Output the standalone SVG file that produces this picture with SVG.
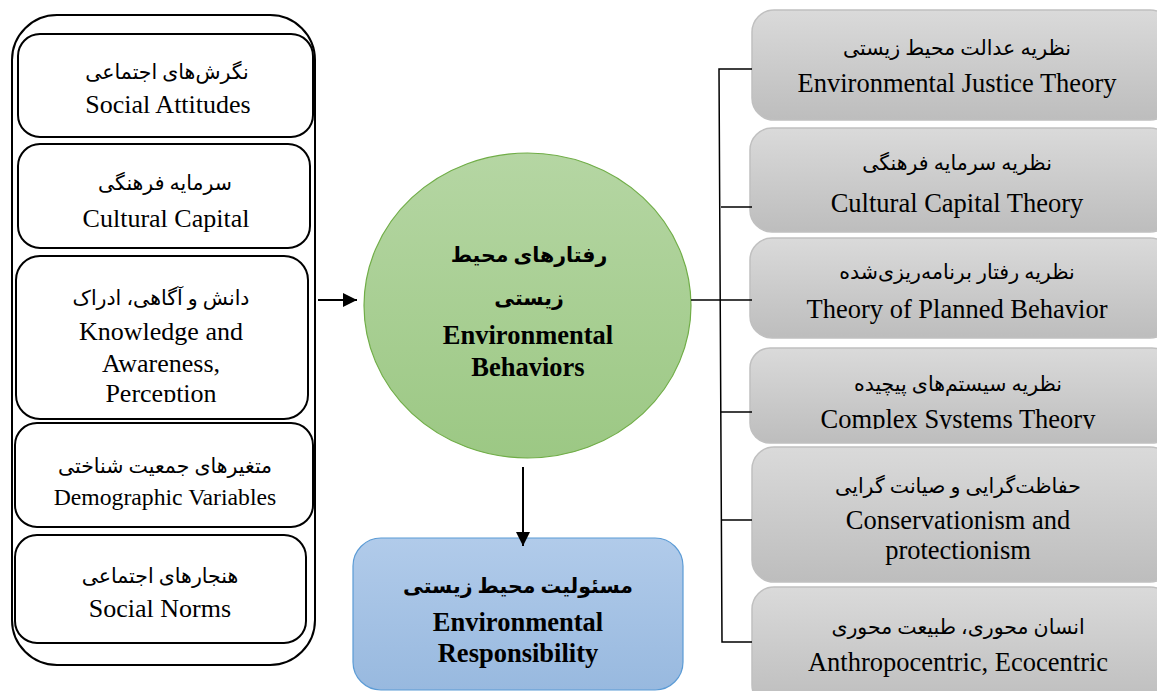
<svg xmlns="http://www.w3.org/2000/svg" width="1157" height="691" viewBox="0 0 1157 691">
<defs>
<linearGradient id="gGreen" x1="0" y1="0" x2="0" y2="1"><stop offset="0" stop-color="#b5d6a3"/><stop offset="1" stop-color="#9cc884"/></linearGradient>
<linearGradient id="gBlue" x1="0" y1="0" x2="0" y2="1"><stop offset="0" stop-color="#b1cbea"/><stop offset="1" stop-color="#98b9df"/></linearGradient>
<linearGradient id="gGray" x1="0" y1="0" x2="0" y2="1"><stop offset="0" stop-color="#dadada"/><stop offset="1" stop-color="#bdbdbd"/></linearGradient>
<marker id="arr" viewBox="0 0 10 10" refX="10" refY="5" markerWidth="14" markerHeight="15" markerUnits="userSpaceOnUse" orient="auto"><path d="M0,0 L10,5 L0,10 z" fill="#000"/></marker>
<clipPath id="clipK"><rect x="0" y="250" width="330" height="152"/></clipPath>
<clipPath id="clipC"><rect x="740" y="340" width="417" height="89"/></clipPath>
</defs>
<style>
.en{font-family:"Liberation Serif","Times New Roman",serif;font-size:26px;fill:#000;text-anchor:middle}
.r{font-size:26.5px}
.fa{font-family:"Liberation Serif","DejaVu Sans",serif;font-size:20.5px;fill:#000;text-anchor:middle;direction:rtl}
.b{font-weight:bold}
.eb{font-size:26.5px;font-weight:bold}
.inner{fill:#fff;stroke:#000;stroke-width:2}
.gray{fill:url(#gGray);stroke:#c0c0c0;stroke-width:1.5}
.ln{stroke:#000;stroke-width:1.5;fill:none}
.ar{stroke:#000;stroke-width:2;fill:none}
</style>
<g id="container">
<rect x="12" y="15" width="303" height="650" rx="45" ry="45" fill="#fff" stroke="#000" stroke-width="2"/>
</g>
<g id="social-attitudes">
<rect class="inner" x="18" y="34" width="295" height="103" rx="22"/>
<text class="fa" x="167" y="79">نگرش‌های اجتماعی</text>
<text class="en" x="168" y="113">Social Attitudes</text>
</g>
<g id="cultural-capital">
<rect class="inner" x="18" y="144" width="292" height="104" rx="22"/>
<text class="fa" x="165" y="190">سرمایه فرهنگی</text>
<text class="en" x="166" y="227">Cultural Capital</text>
</g>
<g id="knowledge">
<rect class="inner" x="16" y="256" width="292" height="163" rx="24"/>
<text class="fa" x="161" y="305">دانش و آگاهی، ادراک</text>
<g clip-path="url(#clipK)">
<text class="en" x="161" y="340">Knowledge and</text>
<text class="en" x="161" y="372">Awareness,</text>
<text class="en" x="161" y="402">Perception</text>
</g>
</g>
<g id="demographic">
<rect class="inner" x="15" y="423" width="298" height="104" rx="22"/>
<text class="fa" x="165" y="473">متغیرهای جمعیت شناختی</text>
<text class="en" x="165" y="505" style="font-size:23.7px">Demographic Variables</text>
</g>
<g id="social-norms">
<rect class="inner" x="15" y="535" width="291" height="108" rx="22"/>
<text class="fa" x="160" y="583">هنجارهای اجتماعی</text>
<text class="en" x="160" y="617">Social Norms</text>
</g>
<g id="env-behaviors">
<ellipse cx="527.5" cy="305.5" rx="163.5" ry="152.5" fill="url(#gGreen)" stroke="#70ad47" stroke-width="1.2"/>
<text class="fa b" x="529" y="262">رفتارهای محیط</text>
<text class="fa b" x="529" y="305">زیستی</text>
<text class="en eb" x="528" y="344">Environmental</text>
<text class="en eb" x="528" y="376">Behaviors</text>
</g>
<g id="env-responsibility">
<rect x="353" y="538" width="330" height="152" rx="28" fill="url(#gBlue)" stroke="#5b9bd5" stroke-width="1.2"/>
<text class="fa b" x="518" y="593">مسئولیت محیط زیستی</text>
<text class="en eb" x="518" y="631">Environmental</text>
<text class="en eb" x="518" y="662">Responsibility</text>
</g>
<g id="t-justice">
<rect class="gray" x="752" y="10" width="420" height="110" rx="22"/>
<text class="fa" x="957" y="55">نظریه عدالت محیط زیستی</text>
<text class="en r" x="957" y="92">Environmental Justice Theory</text>
</g>
<g id="t-cultural">
<rect class="gray" x="750" y="128" width="422" height="104" rx="22"/>
<text class="fa" x="957" y="170">نظریه سرمایه فرهنگی</text>
<text class="en r" x="957" y="212">Cultural Capital Theory</text>
</g>
<g id="t-planned">
<rect class="gray" x="750" y="238" width="422" height="100" rx="22"/>
<text class="fa" x="957" y="279">نظریه رفتار برنامه‌ریزی‌شده</text>
<text class="en r" x="957" y="318">Theory of Planned Behavior</text>
</g>
<g id="t-complex">
<rect class="gray" x="750" y="348" width="422" height="95" rx="20"/>
<text class="fa" x="958" y="391">نظریه سیستم‌های پیچیده</text>
<text class="en r" x="958" y="428" clip-path="url(#clipC)">Complex Systems Theory</text>
</g>
<g id="t-conservation">
<rect class="gray" x="752" y="447" width="420" height="135" rx="22"/>
<text class="fa" x="958" y="493">حفاظت‌گرایی و صیانت گرایی</text>
<text class="en r" x="958" y="529">Conservationism and</text>
<text class="en r" x="958" y="559">protectionism</text>
</g>
<g id="t-anthro">
<rect class="gray" x="752" y="587" width="420" height="120" rx="22"/>
<text class="fa" x="958" y="634">انسان محوری، طبیعت محوری</text>
<text class="en r" x="958" y="671">Anthropocentric, Ecocentric</text>
</g>
<g id="connectors">
<line class="ar" x1="318" y1="300" x2="357" y2="300" marker-end="url(#arr)"/>
<line class="ar" x1="523" y1="467" x2="523" y2="546" marker-end="url(#arr)"/>
<line class="ln" x1="691" y1="300" x2="721" y2="300"/>
<polyline class="ln" points="752,69 719,69 722,642 752,642"/>
<line class="ln" x1="721" y1="207" x2="752" y2="207"/>
<line class="ln" x1="721" y1="300" x2="752" y2="300"/>
<line class="ln" x1="721" y1="412" x2="752" y2="412"/>
<line class="ln" x1="721" y1="520" x2="752" y2="520"/>
</g>
</svg>
